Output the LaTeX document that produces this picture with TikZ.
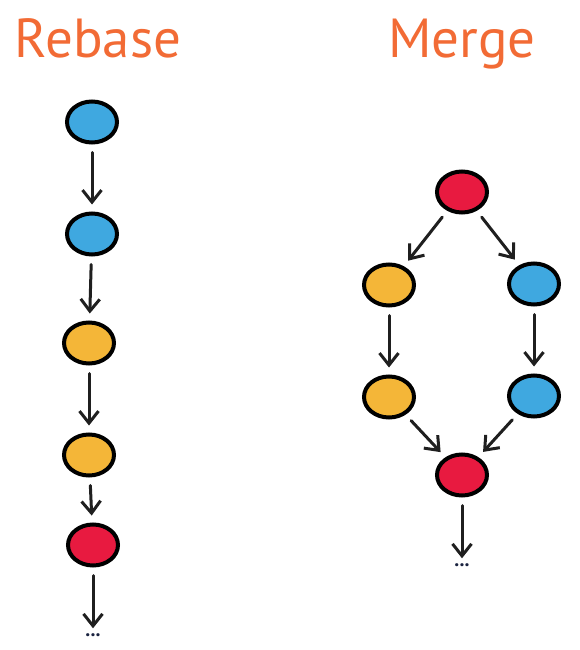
\documentclass[tikz,border=0pt]{standalone}
\usepackage{fontspec}
\setmainfont{PT Sans}
\usetikzlibrary{shapes.geometric,arrows.meta}
\definecolor{ttl}{HTML}{F26B35}
\definecolor{cblue}{HTML}{3FA8E0}
\definecolor{cyel}{HTML}{F4B638}
\definecolor{cred}{HTML}{E81A40}
\definecolor{dotc}{HTML}{1A2340}
\tikzset{
  commit/.style={ellipse, draw=black, line width=4pt, minimum width=50pt, minimum height=41pt, inner sep=0pt},
  bluec/.style={commit, fill=cblue},
  yelc/.style={commit, fill=cyel},
  redc/.style={commit, fill=cred},
  link/.style={line width=3pt, draw=black!88, line cap=round, -{Straight Barb[length=12pt,width=19pt,line width=3pt]}, shorten <=8pt, shorten >=7pt},
  title/.style={text=ttl, font=\fontsize{55}{60}\selectfont, inner sep=0pt, anchor=base},
  dots/.style={text=dotc, font=\fontsize{20}{22}\selectfont\bfseries, inner sep=1pt}
}
\begin{document}
\begin{tikzpicture}[x=1pt,y=-1pt]
\useasboundingbox (0,0) rectangle (579,650);
\node[title] (t1) at (98,58) {Rebase};
\node[title] (t2) at (462,58) {Merge};
% Rebase
\node[bluec] (r1) at (92,122) {};
\node[bluec] (r2) at (92,234) {};
\node[yelc] (r3) at (89,343) {};
\node[yelc] (r4) at (89,455) {};
\node[redc] (r5) at (93,545) {};
\node[dots] (rd) at (93,635) {...};
\draw[link] (r1) -- (r2);
\draw[link] (r2) -- (r3);
\draw[link] (r3) -- (r4);
\draw[link] (r4) -- (r5);
\draw[link,shorten >=4pt] (r5) -- (rd);
% Merge
\node[redc] (m1) at (462,192) {};
\node[yelc] (m2) at (389,285) {};
\node[bluec] (m3) at (534,284) {};
\node[yelc] (m4) at (389,397) {};
\node[bluec] (m5) at (534,396) {};
\node[redc] (m6) at (462,475) {};
\node[dots] (md) at (462,565) {...};
\draw[link] (m1) -- (m2);
\draw[link] (m1) -- (m3);
\draw[link] (m2) -- (m4);
\draw[link] (m3) -- (m5);
\draw[link] (m4) -- (m6);
\draw[link] (m5) -- (m6);
\draw[link,shorten >=4pt] (m6) -- (md);
\end{tikzpicture}
\end{document}
